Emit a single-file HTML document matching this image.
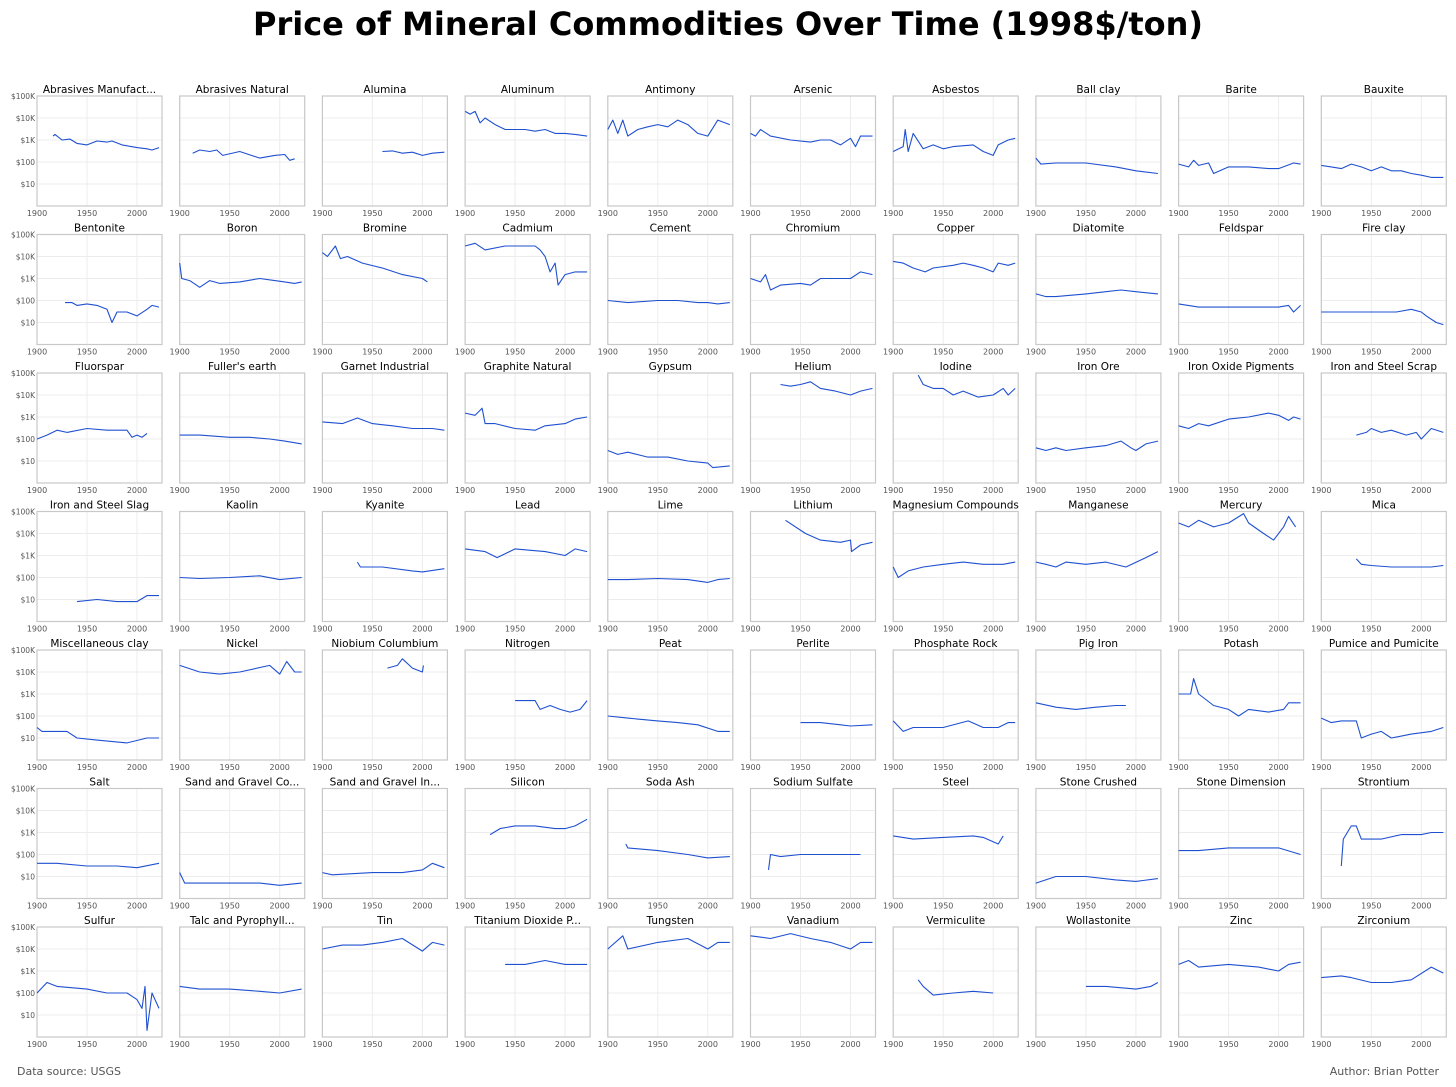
<!DOCTYPE html>
<html><head><meta charset="utf-8"><style>
body{margin:0;background:#fff;}
svg{display:block;font-family:"DejaVu Sans","Liberation Sans",sans-serif;}
</style></head><body>
<svg id="c" width="1456" height="1087" xmlns="http://www.w3.org/2000/svg">
<text x="728" y="35" text-anchor="middle" font-size="32" font-weight="bold" fill="#000">Price of Mineral Commodities Over Time (1998$/ton)</text>
<text x="17" y="1075" font-size="11" fill="#555">Data source: USGS</text>
<text x="1439" y="1075" text-anchor="end" font-size="11" fill="#555">Author: Brian Potter</text>
</svg>
<script>
const names=["Abrasives Manufact...","Abrasives Natural","Alumina","Aluminum","Antimony","Arsenic","Asbestos","Ball clay","Barite","Bauxite",
"Bentonite","Boron","Bromine","Cadmium","Cement","Chromium","Copper","Diatomite","Feldspar","Fire clay",
"Fluorspar","Fuller's earth","Garnet Industrial","Graphite Natural","Gypsum","Helium","Iodine","Iron Ore","Iron Oxide Pigments","Iron and Steel Scrap",
"Iron and Steel Slag","Kaolin","Kyanite","Lead","Lime","Lithium","Magnesium Compounds","Manganese","Mercury","Mica",
"Miscellaneous clay","Nickel","Niobium Columbium","Nitrogen","Peat","Perlite","Phosphate Rock","Pig Iron","Potash","Pumice and Pumicite",
"Salt","Sand and Gravel Co...","Sand and Gravel In...","Silicon","Soda Ash","Sodium Sulfate","Steel","Stone Crushed","Stone Dimension","Strontium",
"Sulfur","Talc and Pyrophyll...","Tin","Titanium Dioxide P...","Tungsten","Vanadium","Vermiculite","Wollastonite","Zinc","Zirconium"];
const yTickValues=[100000,10000,1000,100,10];
const yTickLabels=["$100K","$10K","$1K","$100","$10"];
const xTickValues=[1900,1950,2000];
const series=[
[[1916,1500],[1918,1800],[1925,1000],[1933,1100],[1940,700],[1950,600],[1960,900],[1970,800],[1975,900],[1985,600],[2000,450],[2010,400],[2015,350],[2022,450]],
[[1913,250],[1920,350],[1930,300],[1937,350],[1943,200],[1960,300],[1980,150],[1995,200],[2005,220],[2010,120],[2015,140]],
[[1960,300],[1970,320],[1980,250],[1990,280],[2000,200],[2010,250],[2022,280]],
[[1900,20000],[1905,15000],[1910,20000],[1915,6000],[1920,10000],[1930,5000],[1940,3000],[1960,3000],[1970,2500],[1980,3000],[1990,2000],[2000,2000],[2010,1800],[2022,1500]],
[[1900,3000],[1905,8000],[1910,2000],[1915,8000],[1920,1500],[1930,3000],[1940,4000],[1950,5000],[1960,4000],[1970,8000],[1980,5000],[1990,2000],[2000,1500],[2010,8000],[2022,5000]],
[[1900,2000],[1905,1500],[1910,3000],[1920,1500],[1940,1000],[1960,800],[1970,1000],[1980,1000],[1990,600],[2000,1200],[2005,500],[2010,1500],[2022,1500]],
[[1900,300],[1910,500],[1912,3000],[1915,300],[1920,2000],[1930,400],[1940,600],[1950,400],[1960,500],[1980,600],[1990,300],[2000,200],[2005,600],[2015,1000],[2022,1200]],
[[1900,150],[1905,80],[1920,90],[1950,90],[1980,60],[2000,40],[2022,30]],
[[1900,80],[1910,60],[1915,120],[1920,70],[1930,90],[1935,30],[1950,60],[1970,60],[1990,50],[2000,50],[2015,90],[2022,80]],
[[1900,70],[1910,60],[1920,50],[1930,80],[1940,60],[1950,40],[1960,60],[1970,40],[1980,40],[1990,30],[2000,25],[2010,20],[2022,20]],
[[1928,80],[1935,80],[1940,60],[1950,70],[1960,60],[1970,40],[1975,10],[1980,30],[1990,30],[2000,20],[2010,40],[2015,60],[2022,50]],
[[1900,5000],[1902,1000],[1910,800],[1920,400],[1930,800],[1940,600],[1960,700],[1980,1000],[1995,800],[2005,700],[2015,600],[2022,700]],
[[1900,15000],[1905,10000],[1913,30000],[1918,8000],[1925,10000],[1940,5000],[1960,3000],[1980,1500],[2000,1000],[2005,700]],
[[1900,30000],[1910,40000],[1920,20000],[1940,30000],[1960,30000],[1970,30000],[1975,20000],[1980,10000],[1985,2000],[1990,5000],[1993,500],[2000,1500],[2010,2000],[2022,2000]],
[[1900,100],[1920,80],[1950,100],[1970,100],[1990,80],[2000,80],[2010,70],[2022,80]],
[[1900,1000],[1910,700],[1915,1500],[1920,300],[1930,500],[1950,600],[1960,500],[1970,1000],[1980,1000],[1990,1000],[2000,1000],[2010,2000],[2022,1500]],
[[1900,6000],[1910,5000],[1920,3000],[1932,2000],[1940,3000],[1960,4000],[1970,5000],[1980,4000],[1990,3000],[2000,2000],[2005,5000],[2015,4000],[2022,5000]],
[[1900,200],[1910,150],[1920,150],[1950,200],[1970,250],[1985,300],[2000,250],[2022,200]],
[[1900,70],[1920,50],[1950,50],[1970,50],[1990,50],[2000,50],[2010,60],[2015,30],[2022,60]],
[[1900,30],[1920,30],[1950,30],[1975,30],[1990,40],[2000,30],[2005,20],[2015,10],[2022,8]],
[[1900,100],[1910,150],[1920,250],[1930,200],[1950,300],[1970,250],[1990,250],[1995,120],[2000,150],[2005,120],[2010,180]],
[[1900,150],[1920,150],[1950,120],[1970,120],[1990,100],[2005,80],[2022,60]],
[[1900,600],[1920,500],[1935,900],[1950,500],[1970,400],[1990,300],[2010,300],[2022,250]],
[[1900,1500],[1910,1200],[1917,2500],[1920,500],[1930,500],[1950,300],[1970,250],[1980,400],[2000,500],[2010,800],[2022,1000]],
[[1900,30],[1910,20],[1920,25],[1940,15],[1960,15],[1980,10],[2000,8],[2005,5],[2022,6]],
[[1930,30000],[1940,25000],[1950,30000],[1960,40000],[1970,20000],[1985,15000],[2000,10000],[2010,15000],[2022,20000]],
[[1925,80000],[1930,30000],[1940,20000],[1950,20000],[1960,10000],[1970,15000],[1985,8000],[2000,10000],[2010,20000],[2015,10000],[2022,20000]],
[[1900,40],[1910,30],[1920,40],[1930,30],[1950,40],[1970,50],[1985,80],[1995,40],[2000,30],[2010,60],[2022,80]],
[[1900,400],[1910,300],[1920,500],[1930,400],[1950,800],[1970,1000],[1990,1500],[2000,1200],[2010,700],[2015,1000],[2022,800]],
[[1935,150],[1945,200],[1950,300],[1960,200],[1970,250],[1985,150],[1995,200],[2000,100],[2010,300],[2022,200]],
[[1940,8],[1960,10],[1980,8],[2000,8],[2010,15],[2022,15]],
[[1900,100],[1920,90],[1950,100],[1980,120],[2000,80],[2022,100]],
[[1935,500],[1938,300],[1945,300],[1960,300],[1990,200],[2000,180],[2022,250]],
[[1900,2000],[1920,1500],[1932,800],[1950,2000],[1980,1500],[2000,1000],[2010,2000],[2022,1500]],
[[1900,80],[1920,80],[1950,90],[1980,80],[2000,60],[2010,80],[2022,90]],
[[1935,40000],[1955,10000],[1970,5000],[1990,4000],[2000,5000],[2001,1500],[2010,3000],[2022,4000]],
[[1900,300],[1905,100],[1915,200],[1930,300],[1950,400],[1970,500],[1990,400],[2010,400],[2022,500]],
[[1900,500],[1910,400],[1920,300],[1930,500],[1950,400],[1970,500],[1990,300],[2010,800],[2022,1500]],
[[1900,30000],[1910,20000],[1920,40000],[1935,20000],[1950,30000],[1965,80000],[1970,30000],[1985,10000],[1995,5000],[2005,20000],[2010,60000],[2017,20000]],
[[1935,700],[1940,400],[1950,350],[1970,300],[1990,300],[2010,300],[2022,350]],
[[1900,30],[1905,20],[1930,20],[1940,10],[1960,8],[1990,6],[2010,10],[2022,10]],
[[1900,20000],[1920,10000],[1940,8000],[1960,10000],[1990,20000],[2000,8000],[2007,30000],[2015,10000],[2022,10000]],
[[1965,15000],[1975,20000],[1980,40000],[1990,15000],[2000,10000],[2001,20000]],
[[1950,500],[1970,500],[1975,200],[1985,300],[1995,200],[2005,150],[2015,200],[2022,500]],
[[1900,100],[1920,80],[1950,60],[1970,50],[1990,40],[2010,20],[2022,20]],
[[1950,50],[1970,50],[1990,40],[2000,35],[2022,40]],
[[1900,60],[1910,20],[1920,30],[1950,30],[1975,60],[1990,30],[2005,30],[2015,50],[2022,50]],
[[1900,400],[1920,250],[1940,200],[1960,250],[1980,300],[1990,300]],
[[1900,1000],[1912,1000],[1915,5000],[1920,1000],[1935,300],[1950,200],[1960,100],[1970,200],[1990,150],[2005,200],[2010,400],[2022,400]],
[[1900,80],[1910,50],[1920,60],[1935,60],[1940,10],[1950,15],[1960,20],[1970,10],[1990,15],[2010,20],[2022,30]],
[[1900,40],[1920,40],[1950,30],[1980,30],[2000,25],[2022,40]],
[[1900,15],[1905,5],[1920,5],[1950,5],[1980,5],[2000,4],[2022,5]],
[[1900,15],[1910,12],[1950,15],[1980,15],[2000,20],[2010,40],[2022,25]],
[[1925,800],[1935,1500],[1950,2000],[1970,2000],[1990,1500],[2000,1500],[2010,2000],[2022,4000]],
[[1918,300],[1920,200],[1950,150],[1980,100],[2000,70],[2022,80]],
[[1918,20],[1920,100],[1930,80],[1950,100],[1970,100],[1990,100],[2010,100]],
[[1900,700],[1920,500],[1950,600],[1980,700],[1990,600],[2005,300],[2010,700]],
[[1900,5],[1920,10],[1950,10],[1980,7],[2000,6],[2022,8]],
[[1900,150],[1920,150],[1950,200],[1980,200],[2000,200],[2022,100]],
[[1920,30],[1922,500],[1930,2000],[1935,2000],[1940,500],[1960,500],[1980,800],[2000,800],[2010,1000],[2022,1000]],
[[1900,100],[1910,300],[1920,200],[1950,150],[1970,100],[1990,100],[2000,50],[2005,20],[2008,200],[2010,2],[2015,100],[2022,20]],
[[1900,200],[1920,150],[1950,150],[1980,120],[2000,100],[2022,150]],
[[1900,10000],[1920,15000],[1940,15000],[1960,20000],[1980,30000],[2000,8000],[2010,20000],[2022,15000]],
[[1940,2000],[1960,2000],[1980,3000],[2000,2000],[2022,2000]],
[[1900,10000],[1915,40000],[1920,10000],[1950,20000],[1980,30000],[2000,10000],[2010,20000],[2022,20000]],
[[1900,40000],[1920,30000],[1940,50000],[1960,30000],[1980,20000],[2000,10000],[2010,20000],[2022,20000]],
[[1925,400],[1930,200],[1940,80],[1960,100],[1980,120],[2000,100]],
[[1950,200],[1970,200],[2000,150],[2015,200],[2022,300]],
[[1900,2000],[1910,3000],[1920,1500],[1950,2000],[1980,1500],[2000,1000],[2010,2000],[2022,2500]],
[[1900,500],[1920,600],[1930,500],[1950,300],[1970,300],[1990,400],[2010,1500],[2022,800]]
];
const NS="http://www.w3.org/2000/svg",svg=document.getElementById('c');
const PX0=37,PDX=142.7,PY0=96,PDY=138.5,PW=125,PH=110;
function mk(t,a,p){const e=document.createElementNS(NS,t);for(const k in a)e.setAttribute(k,a[k]);(p||svg).appendChild(e);return e;}
for(let i=0;i<names.length;i++){
  const c=i%10,r=Math.floor(i/10),x0=PX0+c*PDX,y0=PY0+r*PDY;
  const xs=y=>x0+(y-1900)/125*PW, ys=v=>y0+(5-Math.log10(v))/5*PH;
  const g=mk('g',{});
  
  
  for(const v of yTickValues){const l=mk('line',{x1:x0,x2:x0+PW,y1:ys(v),y2:ys(v),stroke:'#ececec','stroke-width':1},g);}
  for(const y of xTickValues){const l=mk('line',{x1:xs(y),x2:xs(y),y1:y0,y2:y0+PH,stroke:'#ececec','stroke-width':1},g);
    const t=mk('text',{x:xs(y),y:y0+PH+10,'text-anchor':'middle','font-size':8,fill:'#555'},g);t.textContent=y;}
  if(c===0){yTickValues.forEach((v,k)=>{const t=mk('text',{x:x0-2,y:ys(v)+3,'text-anchor':'end','font-size':7.5,fill:'#555'},g);t.textContent=yTickLabels[k];});}
  const b=mk('rect',{x:x0,y:y0,width:PW,height:PH,fill:'none',stroke:'#c8c8c8','stroke-width':1.2},g);
  const t=mk('text',{x:x0+PW/2,y:y0-3,'text-anchor':'middle','font-size':10.5,fill:'#000'},g);t.textContent=names[i];
  const pts=series[i].map(p=>xs(p[0]).toFixed(1)+','+ys(p[1]).toFixed(1)).join(' ');
  const pl=mk('polyline',{points:pts,fill:'none',stroke:'#1f50d0','stroke-width':1.1,'stroke-linejoin':'round'},g);
  
  
}
</script>
</body></html>
